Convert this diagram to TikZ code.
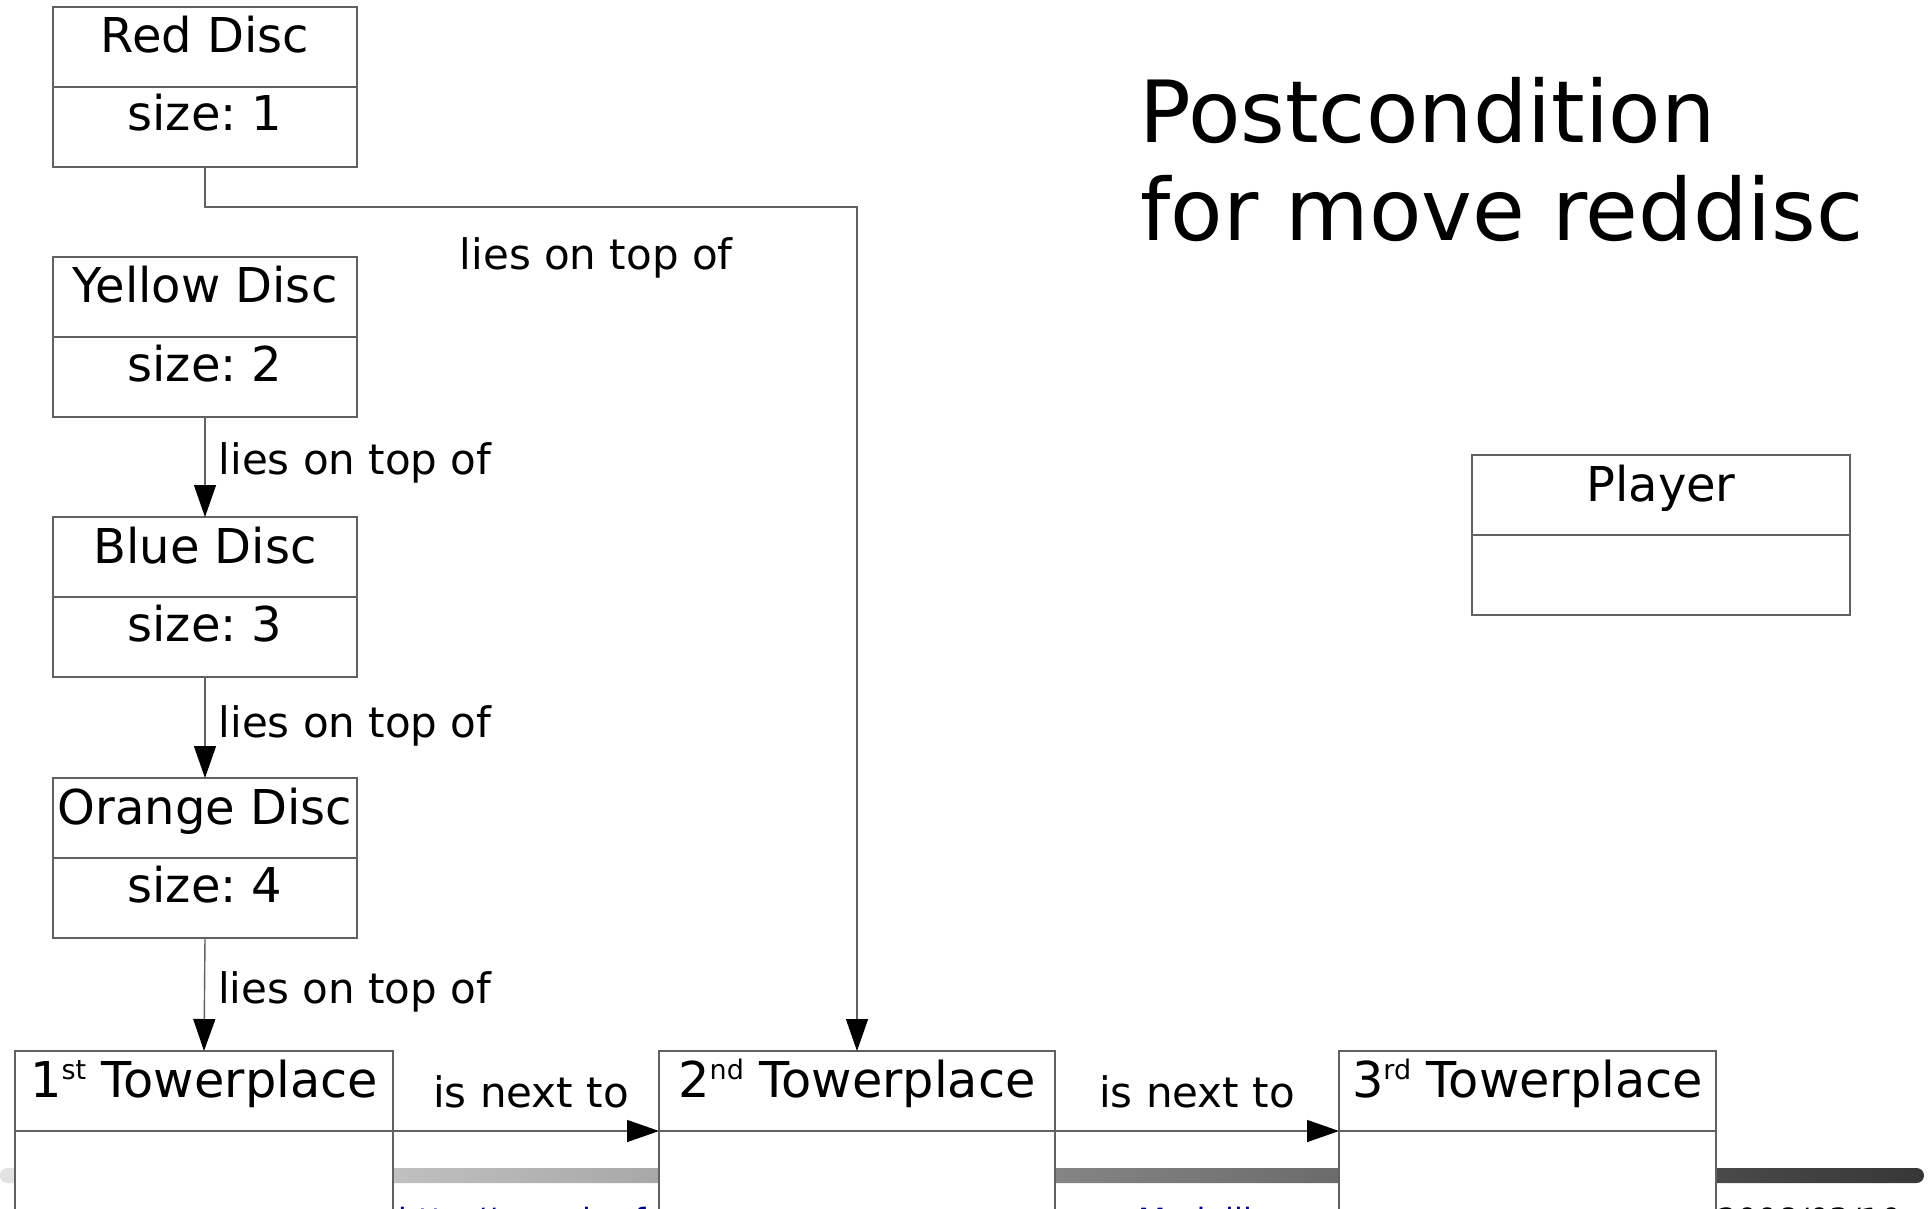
\documentclass[tikz,border=0pt]{standalone}
\usepackage{fontspec}
\setmainfont{DejaVu Sans}
\usetikzlibrary{arrows.meta}
\frenchspacing

\definecolor{linegray}{gray}{0.38}
\definecolor{footblue}{RGB}{0,0,128}
\definecolor{barlight}{gray}{0.89}
\definecolor{bardark}{gray}{0.215}

\tikzset{
  umlbox/.style={draw=linegray, line width=0.7pt, fill=white, rectangle,
    inner sep=0pt, outer sep=0pt, minimum height=80pt, anchor=north west},
  boxline/.style={draw=linegray, line width=0.7pt},
  boxtext/.style={font=\fontsize{24pt}{28pt}\selectfont, anchor=base, inner sep=0pt},
  lbl/.style={font=\fontsize{21pt}{25pt}\selectfont, inner sep=0pt, text=black},
  conn/.style={draw=linegray, line width=0.7pt,
    -{Triangle[length=16pt, width=11pt, color=black, fill=black]}},
  foottext/.style={font=\fontsize{16pt}{19pt}\selectfont, inner sep=0pt},
  titletext/.style={font=\fontsize{42.9pt}{49pt}\selectfont, inner sep=0pt,
    anchor=base west}
}

% slightly larger face for the tower place names
\newcommand\placefont{\fontsize{24.7pt}{29pt}\selectfont}
% small raised ordinal suffix
\newcommand\ordsuffix[1]{\raisebox{8.8pt}{\fontsize{13.5pt}{15pt}\selectfont #1}}

% class box: name, north-west corner, width, name text, attribute text
\newcommand\objbox[5]{%
  \node[umlbox, minimum width=#3] (#1) at (#2) {};
  \draw[boxline] (#1.west) -- (#1.east);
  \node[boxtext] (#1-name) at ([yshift=-23pt]#1.north) {#4};
  \node[boxtext] (#1-attr) at ([yshift=-22pt]#1.center) {#5};
}

\begin{document}
\begin{tikzpicture}[x=0.5pt, y=-0.5pt]
\clip (0,0) rectangle (1928,1209);
\fill[white] (0,0) rectangle (1928,1209);

% footer: progress bar and footline texts
\shade[left color=barlight, right color=bardark, rounded corners=3.75pt]
  (0,1168) rectangle (1924,1183);
\node[foottext, text=footblue, anchor=base west] (url) at (398,1231) {http://www.lsv.fr};
\node[foottext, text=footblue, anchor=base west] (talk) at (1138,1231) {Modelling and Design};
\node[foottext, text=black, anchor=base east] (date) at (1902,1231) {2008/03/10};

% title
\node[titletext] (title1) at (1139,143) {Postcondition};
\node[titletext] (title2) at (1140,241) {for move reddisc};

% discs
\objbox{red}{53,7}{152pt}{Red Disc}{size: 1}
\objbox{yellow}{53,257}{152pt}{Yellow Disc}{size: 2}
\objbox{blue}{53,517}{152pt}{Blue Disc}{size: 3}
\objbox{orange}{53,778}{152pt}{Orange Disc}{size: 4}

% player
\objbox{player}{1472,455}{189pt}{Player}{}

% tower places
\objbox{tp1}{15,1051}{189pt}{\placefont 1\ordsuffix{st} Towerplace}{}
\objbox{tp2}{659,1051}{198pt}{\placefont 2\ordsuffix{nd} Towerplace}{}
\objbox{tp3}{1339,1051}{188.5pt}{\placefont 3\ordsuffix{rd} Towerplace}{}

% "lies on top of" links
\draw[conn] (yellow.south) -- node[lbl, pos=0.57, anchor=base west, xshift=6.5pt] (l1) {lies on top of} (blue.north);
\draw[conn] (blue.south) -- node[lbl, pos=0.60, anchor=base west, xshift=6.5pt] (l2) {lies on top of} (orange.north);
\draw[conn] (orange.south) -- node[lbl, pos=0.58, anchor=base west, xshift=6.5pt] (l3) {lies on top of} (tp1.north);
\draw[conn] (red.south) -- ++(0,40) -| node[lbl, pos=0.3, anchor=base, yshift=-31.5pt] (l0) {lies on top of} (tp2.north);

% "is next to" links
\draw[conn] (tp1.east) -- node[lbl, pos=0.5, anchor=base, yshift=12pt, xshift=2.5pt] (n1) {is next to} (tp2.west);
\draw[conn] (tp2.east) -- node[lbl, pos=0.5, anchor=base, yshift=12pt] (n2) {is next to} (tp3.west);
\end{tikzpicture}
\end{document}
